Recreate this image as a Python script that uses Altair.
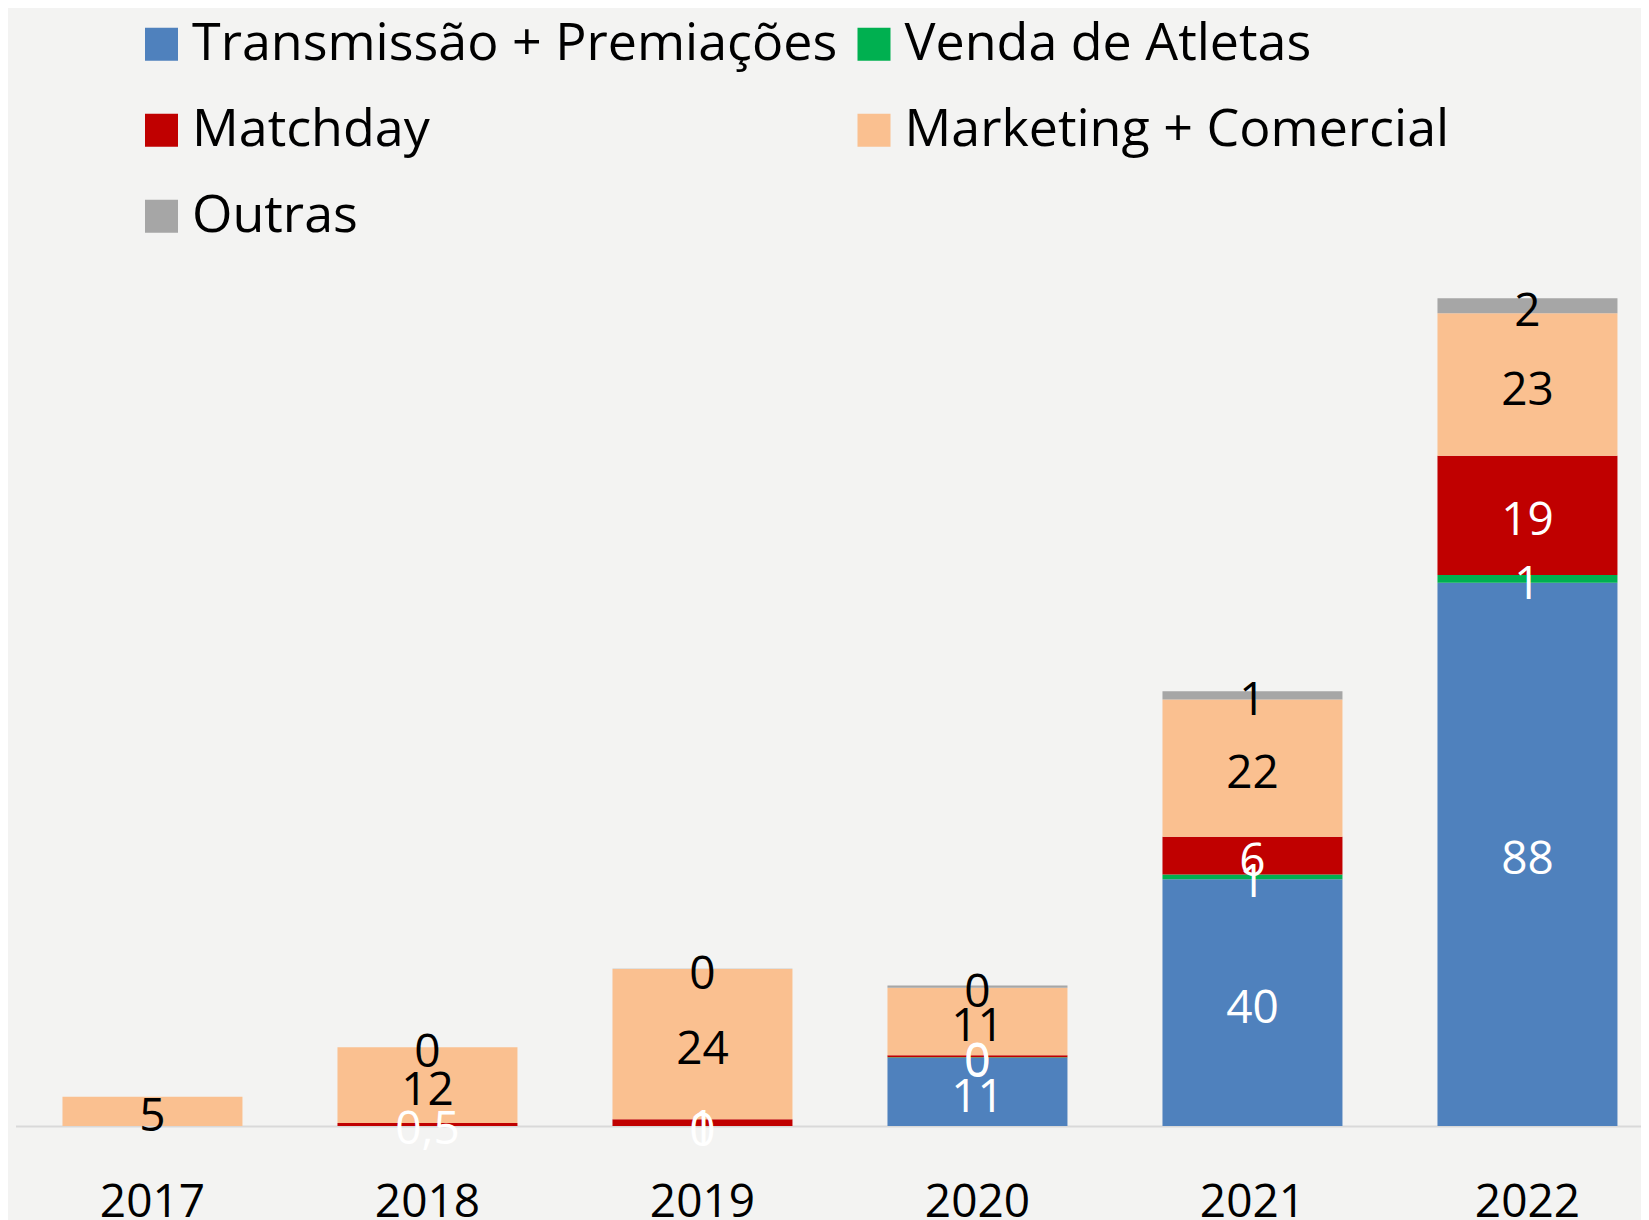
import altair as alt
import pandas as pd

anos = ["2017", "2018", "2019", "2020", "2021", "2022"]
series = ["Transmissão + Premiações", "Venda de Atletas", "Matchday",
          "Marketing + Comercial", "Outras"]
cores = ["#4f81bd", "#00b050", "#c00000", "#fac090", "#a6a6a6"]

transmissao = [0, 0, 0, 11.0, 39.8, 87.6]
venda = [0, 0, 0, 0.1, 0.75, 1.24]
matchday = [0, 0.5, 1.1, 0.3, 6.1, 19.2]
marketing = [4.7, 12.2, 24.2, 10.9, 22.1, 23.0]
outras = [0, 0, 0.05, 0.37, 1.34, 2.4]

rot_transmissao = ["", "", "", "11", "40", "88"]
rot_venda = ["", "", "0", "0", "1", "1"]
rot_matchday = ["", "0,5", "1", "0", "6", "19"]
rot_marketing = ["5", "12", "24", "11", "22", "23"]
rot_outras = ["", "0", "0", "0", "1", "2"]

valores = [transmissao, venda, matchday, marketing, outras]
rotulos = [rot_transmissao, rot_venda, rot_matchday, rot_marketing, rot_outras]

rows = []
for si, s in enumerate(series):
    for ai, a in enumerate(anos):
        rows.append({"ano": a, "serie": s, "idx": si,
                     "valor": valores[si][ai], "rotulo": rotulos[si][ai]})
df = pd.DataFrame(rows)

# legend fills column by column: first column T, M, O; second V, Mk
leg_ordem = [0, 2, 4, 1, 3]
leg_dominio = [series[i] for i in leg_ordem]
leg_cores = [cores[i] for i in leg_ordem]

FONT = "Open Sans"

x_enc = alt.X(
    "ano:N", sort=anos, title=None,
    scale=alt.Scale(paddingInner=0.3455, paddingOuter=0.1273, align=0.671),
    axis=alt.Axis(labelAngle=0, ticks=False, tickSize=0, labelPadding=54,
                  labelFontSize=46, labelColor="#000000", domainColor="#d9d9d9",
                  domainWidth=2, grid=False, labelFont=FONT),
)

base = alt.Chart(df)

bars = base.mark_bar().encode(
    x=x_enc,
    y=alt.Y("valor:Q", stack="zero", axis=None, title=None,
            scale=alt.Scale(nice=False, zero=True)),
    color=alt.Color(
        "serie:N",
        scale=alt.Scale(domain=leg_dominio, range=leg_cores),
        legend=alt.Legend(
            title=None, orient="none", legendX=120, legendY=-280,
            columns=2, symbolType="square", symbolSize=1089,
            symbolStrokeWidth=0, symbolOpacity=1, labelFontSize=52,
            labelColor="#000000", labelFont=FONT, rowPadding=34,
            columnPadding=10.5, labelOffset=4.5, padding=0, labelLimit=0,
        ),
    ),
    order=alt.Order("idx:Q", sort="ascending"),
)

text = (
    base.transform_stack(
        stack="valor", groupby=["ano"], as_=["y0", "y1"],
        sort=[alt.SortField("idx", order="ascending")],
    )
    .transform_calculate(mid="(datum.y0 + datum.y1) / 2")
    .mark_text(fontSize=46, dy=6, font=FONT, baseline="middle")
    .encode(
        x=alt.X("ano:N", sort=anos),
        y=alt.Y("mid:Q", axis=None),
        text="rotulo:N",
        color=alt.condition(
            alt.FieldOneOfPredicate(field="serie", oneOf=[series[3], series[4]]),
            alt.value("#000000"), alt.value("#ffffff"),
        ),
    )
)

chart = (
    alt.layer(bars, text)
    .properties(
        width=1625, height=827.7,
        autosize=alt.AutoSizeParams(type="none"),
        padding={"left": 7.5, "top": 290.3, "right": 0, "bottom": 94},
        background="#f3f3f2",
    )
    .configure(font=FONT)
    .configure_view(stroke=None)
)

chart.save("out.html", embed_options={"renderer": "svg", "actions": False})
